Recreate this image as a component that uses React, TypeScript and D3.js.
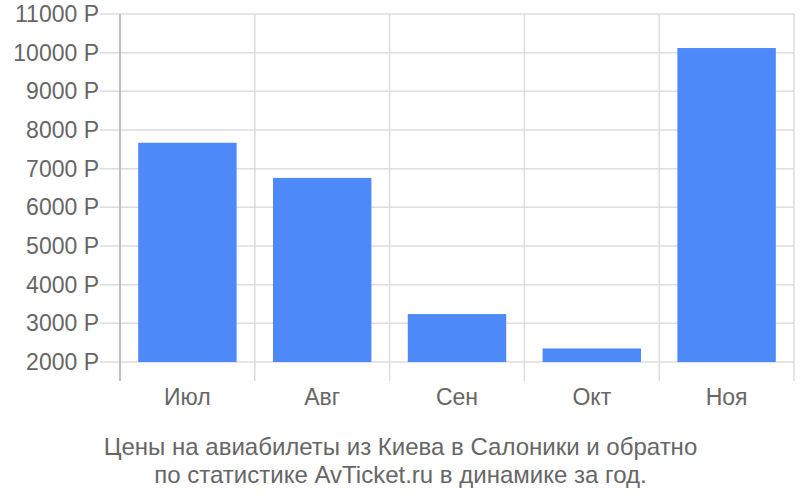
import React from "react";
import * as d3 from "d3";

const categories = ["Июл", "Авг", "Сен", "Окт", "Ноя"];
const values = [7670, 6760, 3240, 2350, 10120];
const yTicks = [2000, 3000, 4000, 5000, 6000, 7000, 8000, 9000, 10000, 11000];
const titleLines = [
  "Цены на авиабилеты из Киева в Салоники и обратно",
  "по статистике AvTicket.ru в динамике за год.",
];

export default function App() {
  const W = 800, H = 500;
  const left = 120, right = 794, top = 14, bottom = 362;
  const x = d3.scaleBand<string>().domain(categories).range([left, right]).paddingInner(0.27).paddingOuter(0.135);
  const xb = d3.scaleBand<string>().domain(categories).range([left, right]);
  const y = d3.scaleLinear().domain([2000, 11000]).range([bottom, top]);
  const font = "'Liberation Sans', Arial, sans-serif";
  return (
    <svg width={W} height={H} style={{ position: "absolute", left: 0, top: 0 }} fontFamily={font}>
      {yTicks.map((t) => (
        <g key={t}>
          <line x1={100} x2={right} y1={y(t)} y2={y(t)} stroke="#dddddd" strokeWidth={1.5} />
          <text x={99} y={y(t)} dy="0.35em" textAnchor="end" fontSize={23} fill="#666">
            {t} P
          </text>
        </g>
      ))}
      {categories.map((c, i) => (
        <line key={c} x1={(xb(c) as number) + xb.bandwidth()} x2={(xb(c) as number) + xb.bandwidth()} y1={top} y2={381} stroke="#dddddd" strokeWidth={1.5} />
      ))}
      {categories.map((c, i) => (
        <rect key={c} x={x(c)} y={y(values[i])} width={x.bandwidth()} height={y(2000) - y(values[i])} fill="#4d89f9" />
      ))}
      <line x1={left} x2={left} y1={top} y2={381} stroke="#aaaaaa" strokeWidth={1.5} />
      {categories.map((c) => (
        <text key={c} x={(xb(c) as number) + xb.bandwidth() / 2} y={405} textAnchor="middle" fontSize={23} fill="#666">
          {c}
        </text>
      ))}
      {titleLines.map((l, i) => (
        <text key={i} x={400.5} y={455 + i * 28} textAnchor="middle" fontSize={24} fill="#666">
          {l}
        </text>
      ))}
    </svg>
  );
}
